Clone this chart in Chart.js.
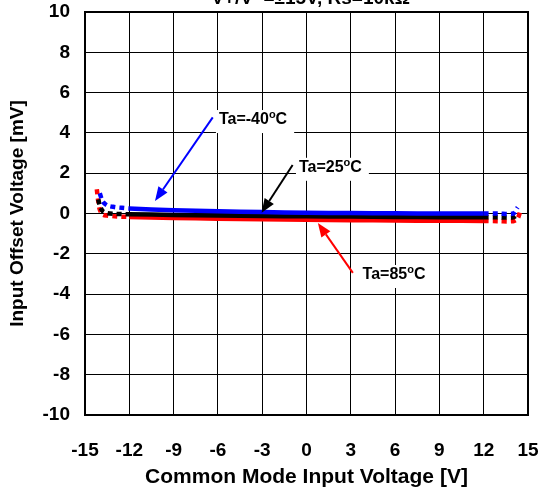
<!DOCTYPE html>
<html>
<head>
<meta charset="utf-8">
<script src="https://cdn.jsdelivr.net/npm/chart.js@4.4.1/dist/chart.umd.min.js"></script>
<style>
  html, body { margin: 0; padding: 0; background: #fff; }
  canvas { display: block; }
</style>
</head>
<body>
<canvas id="vioChart" width="541" height="490"></canvas>
<script>
// Common mode input voltage sweep [V]
const vcm    = [-14.2, -14.1, -14.0, -13.8, -13.5, -13.0, -12.5, -12, -9, -6, -3, 0, 3, 6, 9, 12, 13, 14, 14.3, 14.5];
// Input offset voltage [mV] at each temperature
const vioM40 = [null, null, 1.0, 0.6, 0.4, 0.32, 0.28, 0.25, 0.16, 0.11, 0.07, 0.04, 0.02, 0.01, 0.0, 0.0, 0.0, 0.0, 0.3, null];
const vio25  = [null, 0.7, 0.4, 0.12, 0.02, -0.02, -0.03, -0.04, -0.07, -0.1, -0.12, -0.14, -0.15, -0.17, -0.18, -0.19, -0.19, -0.19, -0.05, null];
const vio85  = [1.2, 0.6, 0.2, -0.05, -0.1, -0.14, -0.16, -0.17, -0.22, -0.26, -0.29, -0.31, -0.33, -0.35, -0.36, -0.37, -0.38, -0.38, -0.25, 0.2];

const xTicks = [-15, -12, -9, -6, -3, 0, 3, 6, 9, 12, 15];
const yTicks = [-10, -8, -6, -4, -2, 0, 2, 4, 6, 8, 10];

// callouts: label baseline-left, arrow tail and tip, all in data units
const callouts = [
  { text: 'Ta=-40', color: '#0000ff', at: [-5.93, 4.44], tail: [-6.35, 4.77], tip: [-10.26, 0.62] },
  { text: 'Ta=25',  color: '#000000', at: [-0.51, 2.07], tail: [-0.94, 2.41], tip: [-3.04, 0.04] },
  { text: 'Ta=85',  color: '#ff0000', at: [3.80, -3.25], tail: [3.14, -2.95], tip: [0.77, -0.47] }
];

const FONT = "'Liberation Sans', Arial, sans-serif";

function series(ys) {
  return vcm.map((x, i) => ({ x: x, y: ys[i] })).filter(p => p.y !== null);
}

// dashed beyond the +-12V guaranteed range
const edgeDash = ctx => (ctx.p0.parsed.x < -12 || ctx.p1.parsed.x > 12) ? [5, 4] : undefined;

function line(label, ys, color) {
  return {
    label: label,
    data: series(ys),
    borderColor: color,
    borderWidth: 4.5,
    pointRadius: 0,
    tension: 0.3,
    fill: false,
    segment: { borderDash: edgeDash }
  };
}

const framePlugin = {
  id: 'frame',
  beforeDatasetsDraw(chart) {
    const a = chart.chartArea, ctx = chart.ctx;
    ctx.save();
    ctx.strokeStyle = '#000';
    ctx.lineWidth = 2;
    ctx.strokeRect(a.left, a.top, a.right - a.left, a.bottom - a.top);
    ctx.restore();
  }
};

const calloutPlugin = {
  id: 'callouts',
  afterDatasetsDraw(chart) {
    const ctx = chart.ctx, sx = chart.scales.x, sy = chart.scales.y;
    const px = p => [sx.getPixelForValue(p[0]), sy.getPixelForValue(p[1])];
    ctx.save();
    callouts.forEach(c => {
      const [tx, ty] = px(c.tail), [hx, hy] = px(c.tip);
      const ang = Math.atan2(hy - ty, hx - tx);
      const len = 14, half = 5.5;
      const bx = hx - len * Math.cos(ang), by = hy - len * Math.sin(ang);
      ctx.strokeStyle = c.color;
      ctx.fillStyle = c.color;
      ctx.lineWidth = 2;
      ctx.beginPath();
      ctx.moveTo(tx, ty);
      ctx.lineTo(bx, by);
      ctx.stroke();
      ctx.beginPath();
      ctx.moveTo(hx, hy);
      ctx.lineTo(bx + half * Math.sin(ang), by - half * Math.cos(ang));
      ctx.lineTo(bx - half * Math.sin(ang), by + half * Math.cos(ang));
      ctx.closePath();
      ctx.fill();

      // label "Ta=xx" + superscript o + C
      const [lx, ly] = px(c.at);
      ctx.font = 'bold 16px ' + FONT;
      const w1 = ctx.measureText(c.text).width;
      const wC = ctx.measureText('C').width;
      ctx.font = 'bold 11px ' + FONT;
      const wo = ctx.measureText('o').width;
      const total = w1 + wo + wC;
      ctx.fillStyle = '#fff';
      ctx.fillRect(lx - 3, ly - 14, total + 10, 23);
      ctx.fillStyle = '#000';
      ctx.textBaseline = 'alphabetic';
      ctx.textAlign = 'left';
      ctx.font = 'bold 16px ' + FONT;
      ctx.fillText(c.text, lx, ly);
      ctx.font = 'bold 11px ' + FONT;
      ctx.fillText('o', lx + w1, ly - 6);
      ctx.font = 'bold 16px ' + FONT;
      ctx.fillText('C', lx + w1 + wo, ly);
    });
    ctx.restore();
  },
  afterDraw(chart) {
    // test condition line, running off the top edge
    const ctx = chart.ctx, a = chart.chartArea;
    ctx.save();
    ctx.fillStyle = '#000';
    ctx.font = 'bold 19px ' + FONT;
    ctx.textAlign = 'center';
    ctx.textBaseline = 'alphabetic';
    ctx.fillText('V+/V- =\u00b115V, Rs=10k\u03a9', (a.left + a.right) / 2 + 4, 4);
    ctx.restore();
  }
};

new Chart(document.getElementById('vioChart'), {
  type: 'line',
  data: {
    datasets: [
      line('Ta=-40\u00b0C', vioM40, '#0000ff'),
      line('Ta=25\u00b0C', vio25, '#000000'),
      line('Ta=85\u00b0C', vio85, '#ff0000')
    ]
  },
  options: {
    responsive: false,
    animation: false,
    layout: { padding: { top: 12, right: 13, left: 0, bottom: 0 } },
    plugins: { legend: { display: false }, tooltip: { enabled: false } },
    scales: {
      x: {
        type: 'linear',
        min: -15,
        max: 15,
        afterBuildTicks: s => { s.ticks = xTicks.map(v => ({ value: v })); },
        afterFit: s => { s.height = 75; s.paddingLeft = 0; s.paddingRight = 0; },
        grid: { color: '#000', lineWidth: 1, drawTicks: false },
        border: { display: false },
        ticks: { color: '#000', padding: 24, font: { family: FONT, size: 19, weight: 'bold' } },
        title: {
          display: true,
          text: 'Common Mode Input Voltage [V]',
          color: '#000',
          font: { family: FONT, size: 21, weight: 'bold' },
          padding: { top: 4, bottom: 0 }
        }
      },
      y: {
        type: 'linear',
        min: -10,
        max: 10,
        afterBuildTicks: s => { s.ticks = yTicks.map(v => ({ value: v })); },
        afterFit: s => { s.width = 85; s.paddingTop = 0; s.paddingBottom = 0; },
        grid: { color: '#000', lineWidth: 1, drawTicks: false },
        border: { display: false },
        ticks: { color: '#000', padding: 15, font: { family: FONT, size: 19, weight: 'bold' } },
        title: {
          display: true,
          text: 'Input Offset Voltage [mV]',
          color: '#000',
          font: { family: FONT, size: 19, weight: 'bold' },
          padding: { top: 6, bottom: 0 }
        }
      }
    }
  },
  plugins: [framePlugin, calloutPlugin]
});
</script>
</body>
</html>
